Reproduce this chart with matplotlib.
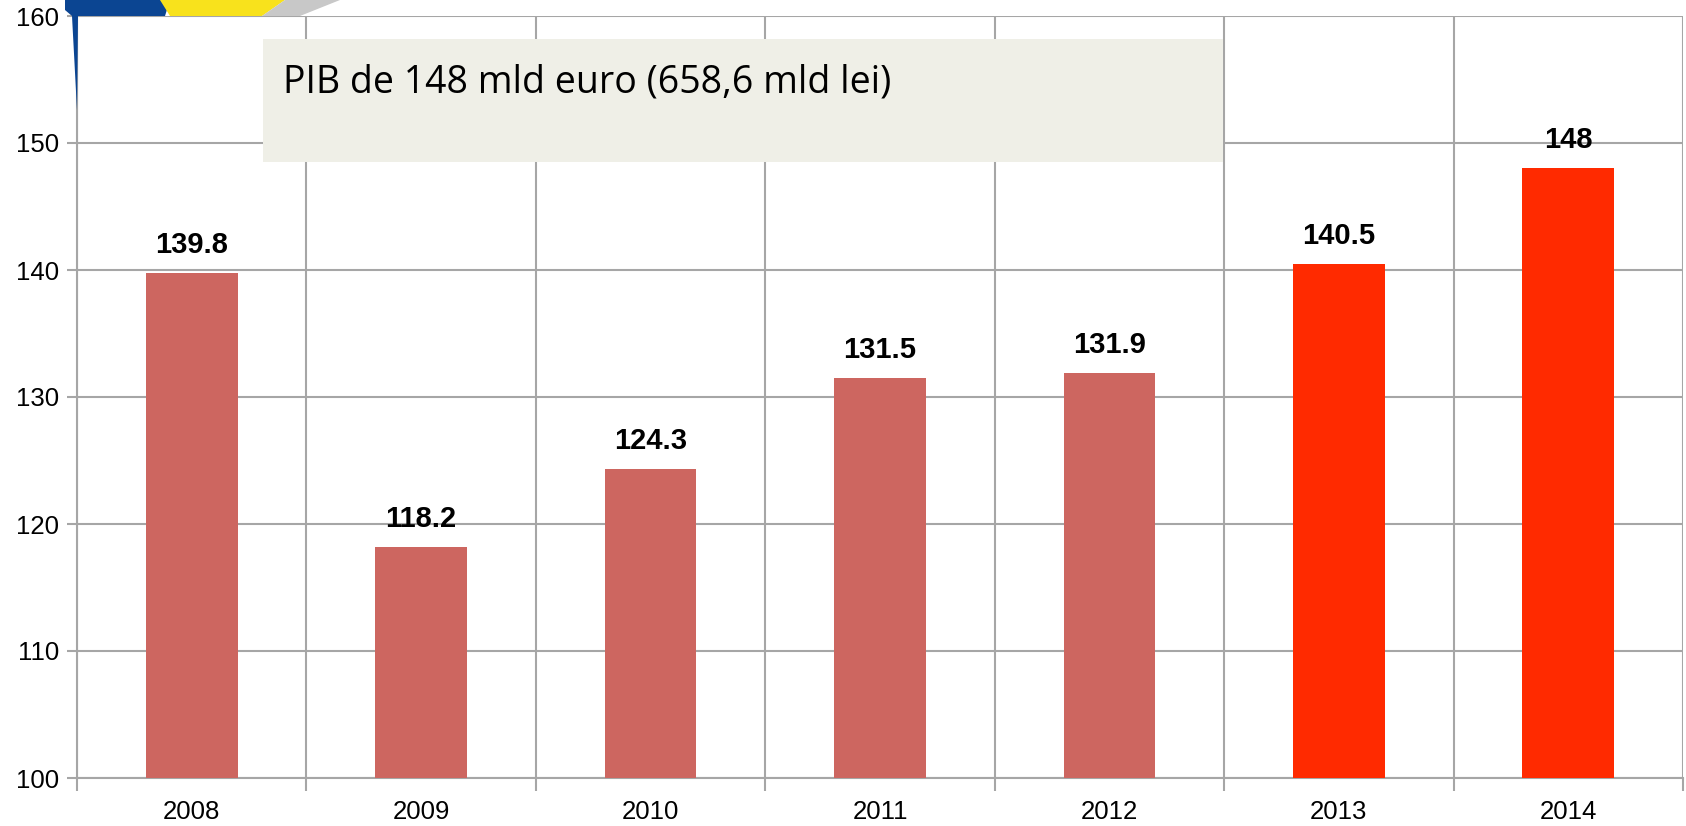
import matplotlib
matplotlib.use("Agg")
import matplotlib.pyplot as plt
from matplotlib.patches import Rectangle, Polygon

years = ["2008", "2009", "2010", "2011", "2012", "2013", "2014"]
values = [139.8, 118.2, 124.3, 131.5, 131.9, 140.5, 148.0]
labels = ["139.8", "118.2", "124.3", "131.5", "131.9", "140.5", "148"]
colors = ["#CD6660"] * 5 + ["#FF2A00"] * 2
yticks = [100, 110, 120, 130, 140, 150, 160]
note = "PIB de 148 mld euro (658,6 mld lei)"

W, H = 1686, 826
fig = plt.figure(figsize=(W / 100, H / 100), dpi=100)
fig.patch.set_facecolor("white")

def fx(px):
    return px / W

def fy(py):
    return 1 - py / H

# decorative logo fragment (top-left)
fig.patches.append(Polygon([(fx(65), fy(0)), (fx(170), fy(0)), (fx(165), fy(16)), (fx(78), fy(16)), (fx(77), fy(110)), (fx(72), fy(16)), (fx(65), fy(10))],
                           closed=True, transform=fig.transFigure, facecolor="#0B4592", edgecolor="none", zorder=0))
fig.patches.append(Polygon([(fx(160), fy(0)), (fx(285), fy(0)), (fx(262), fy(16)), (fx(170), fy(16))],
                           closed=True, transform=fig.transFigure, facecolor="#F8E21C", edgecolor="none", zorder=0))
fig.patches.append(Polygon([(fx(285), fy(0)), (fx(340), fy(0)), (fx(300), fy(16)), (fx(262), fy(16))],
                           closed=True, transform=fig.transFigure, facecolor="#C8C8C8", edgecolor="none", zorder=0))

ax = fig.add_axes([fx(77), 1 - 778 / H, (1683 - 77) / W, (778 - 16) / H])
ax.set_facecolor("none")
x = list(range(len(years)))
ax.bar(x, [v - 100 for v in values], bottom=100, width=0.40, color=colors, zorder=3)
ax.set_xlim(-0.5, len(years) - 0.5)
ax.set_ylim(100, 160)

grid_c = "#A6A6A6"
ax.set_yticks(yticks)
ax.set_yticklabels([str(t) for t in yticks], fontsize=18.5, family="Liberation Sans")
ax.set_xticks(x)
ax.set_xticklabels(years, fontsize=18.5, family="Liberation Sans")
ax.tick_params(axis="x", length=0, pad=15.5)
ax.tick_params(axis="y", length=7, width=1.5, color=grid_c, pad=6)
# minor x ticks at boundaries
bounds = [i - 0.5 for i in range(len(years) + 1)]
ax.set_xticks(bounds, minor=True)
ax.tick_params(axis="x", which="minor", length=9, width=1.5, color=grid_c)
ax.grid(axis="y", which="major", color=grid_c, linewidth=1.5, zorder=1)
ax.grid(axis="x", which="minor", color=grid_c, linewidth=1.5, zorder=1)
for s in ["left", "bottom"]:
    ax.spines[s].set_color(grid_c)
    ax.spines[s].set_linewidth(1.5)
for s in ["top", "right"]:
    ax.spines[s].set_visible(False)
ax.set_axisbelow(True)

for xi, v, lab in zip(x, values, labels):
    ax.annotate(lab, (xi, v), xytext=(0, 14), textcoords="offset pixels",
                ha="center", va="bottom", fontsize=21, fontweight="bold",
                family="Liberation Sans", zorder=5)

# note box
fig.patches.append(Rectangle((fx(263), fy(162)), (1223 - 263) / W, (162 - 39) / H,
                             transform=fig.transFigure, facecolor="#EFEFE7", edgecolor="none", zorder=5))
fig.text(fx(283), fy(93), note, fontsize=27, family="Open Sans", ha="left", va="baseline", zorder=6)

fig.savefig("out.png", dpi=100)
